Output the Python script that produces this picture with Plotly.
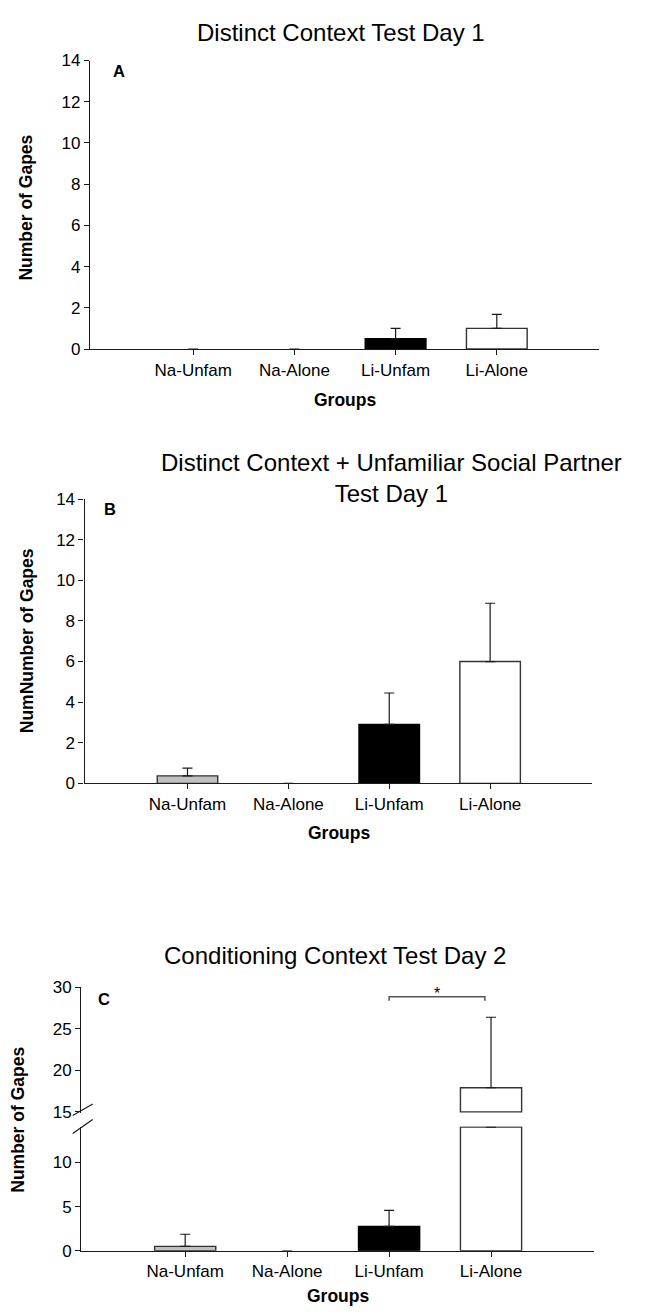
import plotly.graph_objects as go

# ---- data -------------------------------------------------------------
groups = ["Na-Unfam", "Na-Alone", "Li-Unfam", "Li-Alone"]
bar_fill = ["#c0c0c0", "#ffffff", "#000000", "#ffffff"]
bar_edge = ["#333333", "#333333", "#000000", "#333333"]

# A: distinct context, test day 1 (mean number of gapes, +SEM)
gapes_a = [0, 0, 0.5, 1.0]
sem_a = [0, 0, 0.5, 0.68]

# B: distinct context + unfamiliar social partner, test day 1
gapes_b = [0.37, 0, 2.9, 6.0]
sem_b = [0.38, 0, 1.55, 2.87]

# C: conditioning context, test day 2 (broken y axis)
gapes_c = [0.5, 0, 2.75, 17.9]
sem_c = [1.37, 0, 1.82, 8.5]

ticks_ab = [0, 2, 4, 6, 8, 10, 12, 14]
ticks_c_low = [0, 5, 10]
ticks_c_high = [15, 20, 25, 30]
break_low, break_high = 14, 15          # axis break in panel C
sig_pair = ("Li-Unfam", "Li-Alone")     # Li-Unfam vs Li-Alone, p < .05

# ---- page geometry (pixels) ------------------------------------------
W, H = 666, 1314
FONT = "Liberation Sans, Arial, Helvetica, sans-serif"
INK = "#1a1a1a"


def fx(x):
    return x / W


def fy(y):
    return 1 - y / H


def err(vals):
    return [v if v > 0 else None for v in vals]


fig = go.Figure()


def bars(y, sem, xa, ya, base=None):
    # empty (zero or missing) bars get no outline so nothing sits on the axis
    edge_w = [1.4 if (v is not None and v > 0) else 0 for v in y]
    fig.add_trace(go.Bar(
        x=groups, y=y, base=base, width=0.6,
        xaxis=xa, yaxis=ya,
        marker=dict(color=bar_fill, line=dict(color=bar_edge, width=edge_w)),
        error_y=dict(type="data", symmetric=False, array=err(sem),
                     arrayminus=[0] * len(sem), color=INK,
                     thickness=1.2, width=5),
        showlegend=False, hoverinfo="skip",
    ))


bars(gapes_a, sem_a, "x", "y")
bars(gapes_b, sem_b, "x2", "y2")

# panel C: lower segment holds everything up to the break,
# upper segment shows the part of any bar that rises above it
low_vals = [min(v, break_low) for v in gapes_c]
low_sem = [s if v <= break_low else 0 for v, s in zip(gapes_c, sem_c)]
high_vals = [v - break_high if v > break_high else None for v in gapes_c]
high_sem = [s if v > break_high else 0 for v, s in zip(gapes_c, sem_c)]
bars(low_vals, low_sem, "x3", "y3")
bars(high_vals, high_sem, "x3", "y4", base=[break_high] * len(groups))

axis_line = dict(showline=True, linecolor=INK, linewidth=1.3,
                 ticks="outside", ticklen=5, tickwidth=1.2, tickcolor=INK,
                 showgrid=False, zeroline=False, fixedrange=True,
                 tickfont=dict(family=FONT, size=17, color="#000"))
xr = [-1.02, 4.01]

fig.update_layout(
    width=W, height=H, margin=dict(l=0, r=0, t=0, b=0),
    paper_bgcolor="white", plot_bgcolor="white",
    bargap=0.4,
    xaxis=dict(domain=[fx(90), fx(599)], anchor="y", range=xr,
               type="category", **axis_line),
    yaxis=dict(domain=[fy(345), fy(52.3)], anchor="x", range=[0, 14],
               tickvals=ticks_ab, **axis_line),
    xaxis2=dict(domain=[fx(84.6), fx(592)], anchor="y2", range=xr,
                type="category", **axis_line),
    yaxis2=dict(domain=[fy(785.7), fy(497.3)], anchor="x2", range=[0, 14],
                tickvals=ticks_ab, **axis_line),
    xaxis3=dict(domain=[fx(81.2), fx(594)], anchor="y3", range=xr,
                type="category", **axis_line),
    yaxis3=dict(domain=[fy(1260), fy(1134)], anchor="x3",
                range=[0, 14.05], tickvals=ticks_c_low, **axis_line),
    yaxis4=dict(domain=[fy(1120.7), fy(992.7)], anchor="x3",
                range=[14.8, 30], tickvals=ticks_c_high, **axis_line),
)

ann = []


def text(x, y, s, size, bold=False, angle=0, xanchor="center"):
    ann.append(dict(x=fx(x), y=fy(y), xref="paper", yref="paper",
                    text=f"<b>{s}</b>" if bold else s, showarrow=False,
                    textangle=angle, xanchor=xanchor, yanchor="middle",
                    font=dict(family=FONT, size=size, color="#000")))


# panel titles
text(341, 24, "Distinct Context Test Day 1", 24)
text(391, 475.5, "Distinct Context + Unfamiliar Social Partner<br>Test Day 1", 24)
text(335, 960, "Conditioning Context Test Day 2", 24)

# panel letters
text(119, 63, "A", 16.5, bold=True)
text(110, 507, "B", 16.5, bold=True)
text(104, 1005, "C", 16.5, bold=True)

# axis titles
text(26.5, 202, "Number of Gapes", 17.5, bold=True, angle=-90)
text(26.5, 641, "NumNumber of Gapes", 17.5, bold=True, angle=-90)
text(18, 1127, "Number of Gapes", 17.5, bold=True, angle=-90)
text(345, 397, "Groups", 17.5, bold=True)
text(339, 836, "Groups", 17.5, bold=True)
text(338, 1306, "Groups", 17.5, bold=True)

# significance bracket over the compared pair in panel C
i0, i1 = groups.index(sig_pair[0]), groups.index(sig_pair[1])
fig.add_shape(type="path", xref="x3", yref="y4",
              path=f"M {i0},28.4 L {i0},28.86 L {i1 - 0.06},28.86 L {i1 - 0.06},28.4",
              line=dict(color="#555555", width=1.5))
ann.append(dict(x=(i0 + i1 - 0.06) / 2, y=29.25, xref="x3", yref="y4",
                text="*", showarrow=False, yanchor="middle",
                font=dict(family=FONT, size=16, color="#000")))

# break marks on the panel C y axis
for y0, y1 in [(1122.7, 1111), (1141, 1126.7)]:
    fig.add_shape(type="line", xref="paper", yref="paper",
                  x0=fx(72.7), y0=fy(y0), x1=fx(92.7), y1=fy(y1),
                  line=dict(color=INK, width=1.2))

fig.update_layout(annotations=ann)
fig.write_html("out.html")
